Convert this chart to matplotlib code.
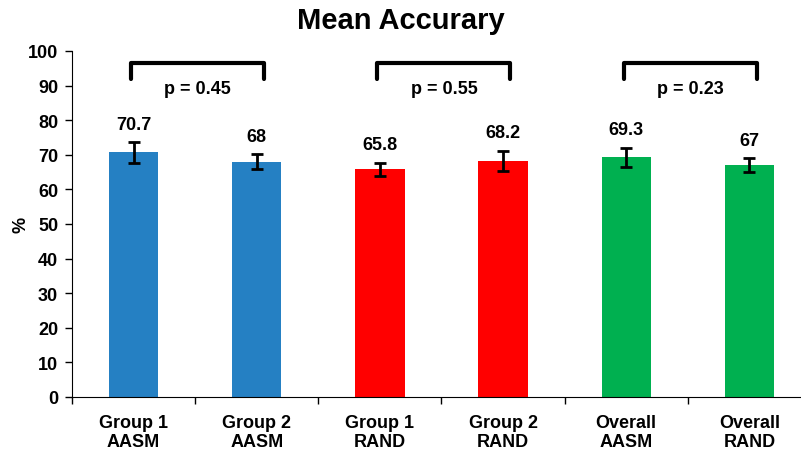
import matplotlib
matplotlib.use("Agg")
import matplotlib.pyplot as plt

plt.rcParams['font.family'] = ['Liberation Sans', 'DejaVu Sans']
plt.rcParams['font.weight'] = 'bold'

# datos
categorias = ["Group 1\nAASM", "Group 2\nAASM", "Group 1\nRAND",
              "Group 2\nRAND", "Overall\nAASM", "Overall\nRAND"]
medias = [70.7, 68, 65.8, 68.2, 69.3, 67]
errores = [3.0, 2.2, 1.9, 3.0, 2.7, 2.0]
colores = ["#2580C3", "#2580C3", "#FF0000", "#FF0000", "#00B050", "#00B050"]
p_valores = ["p = 0.45", "p = 0.55", "p = 0.23"]
pares = [(0, 1), (2, 3), (4, 5)]

fig = plt.figure(figsize=(8.01, 4.56), dpi=100)
ax = fig.add_axes([72/801, 58/456, 739/801, 346/456])

x = list(range(len(categorias)))
ax.bar(x, medias, width=0.4, color=colores, zorder=2)
ax.errorbar(x, medias, yerr=errores, fmt='none', ecolor='black',
            elinewidth=2, capsize=4, capthick=2, zorder=3)

for i, (m, e) in enumerate(zip(medias, errores)):
    ax.text(i, m + e + 5.2, f"{m:g}", ha='center', va='center',
            fontsize=13, fontweight='bold')

# corchetes con p
for (a, b), p in zip(pares, p_valores):
    ax.plot([a - 0.02, a - 0.02, b + 0.06, b + 0.06], [92, 96.5, 96.5, 92],
            color='black', lw=3, solid_joinstyle='round',
            solid_capstyle='round', zorder=3)
    ax.text((a + b) / 2 + 0.02, 89.3, p, ha='center', va='center',
            fontsize=13, fontweight='bold')

ax.set_xlim(-0.5, 5.5)
ax.set_ylim(0, 100)
ax.set_yticks(range(0, 101, 10))
ax.set_xticks(x)
ax.set_xticklabels(categorias, fontsize=13, fontweight='bold')
ax.set_xticks([i + 0.5 for i in range(-1, 6)], minor=True)
ax.tick_params(axis='x', which='major', length=0, pad=12)
ax.tick_params(axis='x', which='minor', length=5, width=1)
ax.tick_params(axis='y', length=5, width=1, labelsize=13, pad=5)
for lab in ax.get_yticklabels():
    lab.set_fontweight('bold')

ax.spines['top'].set_visible(False)
ax.spines['right'].set_visible(False)
ax.set_ylabel("%", fontsize=13, fontweight='bold', labelpad=-1)
fig.text(0.5, 1 - 21/456, "Mean Accurary", ha='center', va='center',
         fontsize=21, fontweight='bold')

fig.savefig("out.png", dpi=100)
